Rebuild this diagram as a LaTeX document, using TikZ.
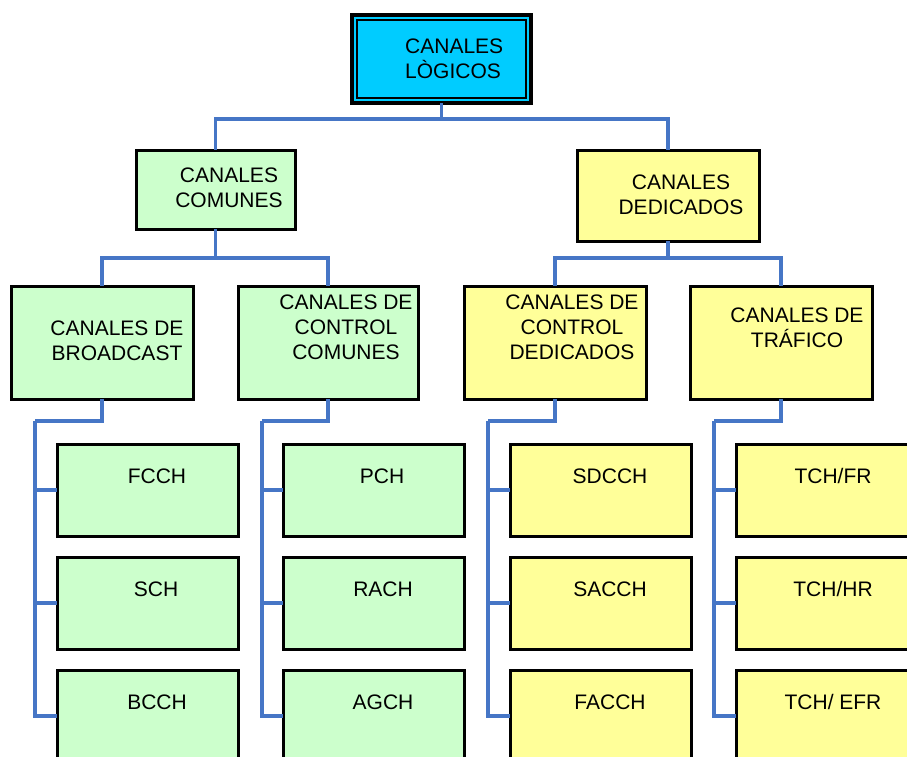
\documentclass[tikz,border=0pt]{standalone}
\usepackage{fontspec}
\setmainfont{Liberation Sans}
\begin{document}
\definecolor{rootfill}{HTML}{00CCFF}
\definecolor{greenfill}{HTML}{CCFFCC}
\definecolor{yellowfill}{HTML}{FFFF99}
\definecolor{linkblue}{HTML}{4676C6}
\begin{tikzpicture}[x=1pt,y=-1pt,
  box/.style={draw=black,line width=3pt,rectangle,inner sep=0pt,outer sep=0pt,anchor=north west},
  green/.style={box,fill=greenfill},
  yellow/.style={box,fill=yellowfill},
  label/.style={font=\fontsize{21}{25}\selectfont,inner sep=0pt,align=center,anchor=center},
  conn/.style={draw=linkblue,line width=3.1pt}]
\clip (0,0) rectangle (907,756);
\fill[white] (0,0) rectangle (907,756);

% root box with double frame
\node[box,fill=rootfill,line width=4pt,minimum width=179pt,minimum height=88pt] (root) at (352,15) {};
\node[draw=black,line width=2pt,inner sep=0pt,minimum width=169pt,minimum height=78pt] (rootin) at (root.center) {};
\node[label,align=left,anchor=west] (troot) at (405,58.5) {CANALES\\LÒGICOS};

% first level
\node[green,minimum width=159pt,minimum height=79pt] (comunes) at (136,150) {};
\node[yellow,minimum width=182pt,minimum height=91pt] (dedicados) at (577,150) {};
\node[label] (tcomunes) at (229,188) {CANALES\\COMUNES};
\node[label] (tdedicados) at (681,194.5) {CANALES\\DEDICADOS};

% second level
\node[green,minimum width=182pt,minimum height=113pt] (bcast) at (11,286) {};
\node[green,minimum width=180pt,minimum height=113pt] (ccom) at (238,286) {};
\node[yellow,minimum width=182pt,minimum height=113pt] (cded) at (464,286) {};
\node[yellow,minimum width=182pt,minimum height=113pt] (traf) at (690,286) {};
\node[label] (tbcast) at (117,340.5) {CANALES DE\\BROADCAST};
\node[label] (tccom) at (346,327.5) {CANALES DE\\CONTROL\\COMUNES};
\node[label] (tcded) at (572,327.5) {CANALES DE\\CONTROL\\DEDICADOS};
\node[label] (ttraf) at (797,327.5) {CANALES DE\\TRÁFICO};

% leaves
\foreach \nm/\x/\st in {a/57/green,b/283/green,c/510/yellow,d/736/yellow}{
  \node[\st,minimum width=181pt,minimum height=92pt] (\nm1) at (\x,444) {};
  \node[\st,minimum width=181pt,minimum height=92pt] (\nm2) at (\x,557) {};
  \node[\st,minimum width=181pt,minimum height=92pt] (\nm3) at (\x,670) {};
}
\node[label] (la1) at (157,476) {FCCH};
\node[label] (la2) at (156,589) {SCH};
\node[label] (la3) at (157,702) {BCCH};
\node[label] (lb1) at (382,476) {PCH};
\node[label] (lb2) at (383,589) {RACH};
\node[label] (lb3) at (383,702) {AGCH};
\node[label] (lc1) at (610,476) {SDCCH};
\node[label] (lc2) at (610,589) {SACCH};
\node[label] (lc3) at (610,702) {FACCH};
\node[label] (ld1) at (833,476) {TCH/FR};
\node[label] (ld2) at (833,589) {TCH/HR};
\node[label] (ld3) at (833,702) {TCH/ EFR};

% connectors
\draw[conn] (root.south) -- ++(0,16) -| (comunes.north);
\draw[conn] (root.south) -- ++(0,16) -| (dedicados.north);
\draw[conn] (comunes.south) -- ++(0,29) -| (bcast.north);
\draw[conn] (comunes.south) -- ++(0,29) -| (ccom.north);
\draw[conn] (dedicados.south) -- ++(0,17) -| (cded.north);
\draw[conn] (dedicados.south) -- ++(0,17) -| (traf.north);

\coordinate (busa) at (35,421);
\coordinate (busb) at (262,421);
\coordinate (busc) at (488,421);
\coordinate (busd) at (714,421);
\draw[conn] (bcast.south) |- (busa);
\draw[conn] (ccom.south) |- (busb);
\draw[conn] (cded.south) |- (busc);
\draw[conn] (traf.south) |- (busd);
\foreach \nm in {a,b,c,d}{
  \draw[conn] (bus\nm) |- (\nm3.west);
  \draw[conn] (bus\nm) |- (\nm2.west);
  \draw[conn] (bus\nm) |- (\nm1.west);
}
\end{tikzpicture}
\end{document}
